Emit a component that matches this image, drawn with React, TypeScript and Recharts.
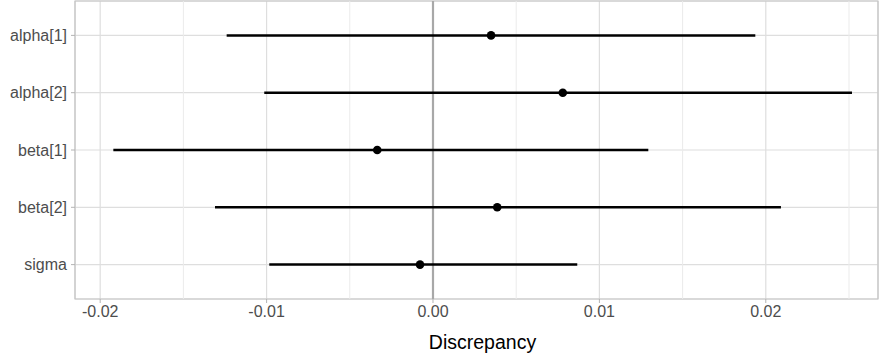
import {
  ScatterChart,
  Scatter,
  XAxis,
  YAxis,
  CartesianGrid,
  ReferenceLine,
  ReferenceArea,
  ErrorBar,
} from "recharts";

const params = ["alpha[1]", "alpha[2]", "beta[1]", "beta[2]", "sigma"];
const lows = [-0.0124, -0.01014, -0.01921, -0.0131, -0.00984];
const estimates = [0.00349, 0.0078, -0.00335, 0.00386, -0.00078];
const highs = [0.01937, 0.02518, 0.01294, 0.02091, 0.00867];

const xTicks = [-0.02, -0.01, 0, 0.01, 0.02];
const xMinorTicks = [-0.015, -0.005, 0.005, 0.015, 0.025];
const xDomain = [-0.021514, 0.026743];
const yDomain = [0.4, 5.6];

const FONT = '"Liberation Sans", Arial, sans-serif';

export default function App() {
  const data = params.map((p, i) => ({
    name: p,
    pos: i + 1,
    est: estimates[i],
    err: [estimates[i] - lows[i], highs[i] - estimates[i]],
  }));

  return (
    <div style={{ position: "absolute", left: 0, top: 0, width: 879, height: 360, background: "#fff" }}>
      <ScatterChart
        width={879}
        height={360}
        margin={{ top: 1, right: 1, bottom: 0, left: 0 }}
        style={{ fontFamily: FONT }}
      >
        <CartesianGrid stroke="#dedede" strokeWidth={1.2} />
        {xMinorTicks.map((t) => (
          <ReferenceLine key={t} x={t} stroke="#ebebeb" strokeWidth={1} />
        ))}
        <ReferenceLine x={0} stroke="#a8a8a8" strokeWidth={2.2} />
        <ReferenceArea
          x1={xDomain[0]}
          x2={xDomain[1]}
          y1={yDomain[0]}
          y2={yDomain[1]}
          fill="none"
          stroke="#c4c4c4"
          strokeWidth={1.2}
          fillOpacity={0}
          strokeOpacity={1}
        />
        <XAxis
          type="number"
          dataKey="est"
          domain={xDomain}
          ticks={xTicks}
          allowDataOverflow
          tickFormatter={(v: number) => v.toFixed(2)}
          height={61}
          tickSize={4}
          tickMargin={3}
          axisLine={false}
          tickLine={{ stroke: "#b3b3b3" }}
          tick={{ fill: "#4d4d4d", fontSize: 16 }}
          label={{
            value: "Discrepancy",
            position: "insideBottom",
            offset: 11,
            fill: "#000",
            fontSize: 19.5,
            dx: 6,
          }}
        />
        <YAxis
          type="number"
          dataKey="pos"
          domain={yDomain}
          ticks={[1, 2, 3, 4, 5]}
          reversed
          allowDataOverflow
          tickFormatter={(v: number) => params[v - 1]}
          width={75}
          tickSize={4}
          tickMargin={4}
          axisLine={false}
          tickLine={{ stroke: "#b3b3b3" }}
          tick={{ fill: "#4d4d4d", fontSize: 16 }}
        />
        <Scatter
          data={data}
          fill="#000"
          isAnimationActive={false}
          shape={(props: any) => <circle cx={props.cx} cy={props.cy} r={4.3} fill="#000" />}
        >
          <ErrorBar dataKey="err" direction="x" width={0} stroke="#000" strokeWidth={2.5} />
        </Scatter>
      </ScatterChart>
    </div>
  );
}
